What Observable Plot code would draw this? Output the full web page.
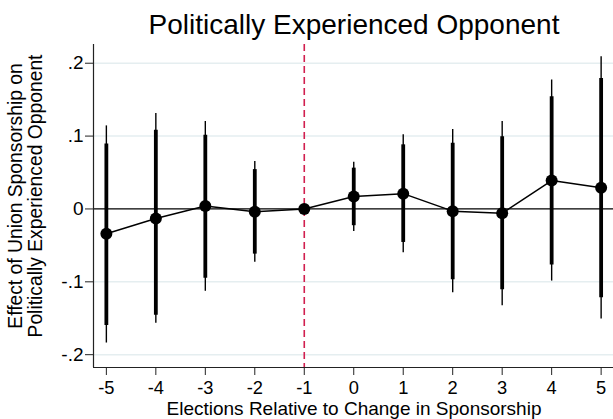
<!DOCTYPE html>
<html><head><meta charset="utf-8">
<script src="https://cdn.jsdelivr.net/npm/d3@7"></script>
<script src="https://cdn.jsdelivr.net/npm/@observablehq/plot@0.6"></script>
<style>html,body{margin:0;padding:0;background:#fff;}</style>
</head><body><div id="chart"></div>
<script>
const elections = [-5, -4, -3, -2, -1, 0, 1, 2, 3, 4, 5];
const estimates = [-0.034, -0.013, 0.004, -0.004, 0, 0.017, 0.021, -0.003, -0.006, 0.039, 0.029];
const ci90Low  = [-0.160, -0.146, -0.095, -0.062, null, -0.023, -0.046, -0.097, -0.111, -0.077, -0.122];
const ci90High = [0.089, 0.108, 0.101, 0.054, null, 0.056, 0.088, 0.090, 0.099, 0.154, 0.179];
const ci95Low  = [-0.184, -0.157, -0.113, -0.073, null, -0.031, -0.060, -0.115, -0.133, -0.099, -0.151];
const ci95High = [0.114, 0.131, 0.120, 0.065, null, 0.064, 0.102, 0.109, 0.120, 0.177, 0.209];
const yTicks = [-0.2, -0.1, 0, 0.1, 0.2];
const yTickLabels = ["-.2", "-.1", "0", ".1", ".2"];
const xTickLabels = ["-5", "-4", "-3", "-2", "-1", "0", "1", "2", "3", "4", "5"];
const referenceElection = -1;
const titleText = "Politically Experienced Opponent";
const xTitle = "Elections Relative to Change in Sponsorship";
const yTitleLines = ["Effect of Union Sponsorship on", "Politically Experienced Opponent"];

const data = elections.map((e, i) => ({
  e, est: estimates[i], lo90: ci90Low[i], hi90: ci90High[i], lo95: ci95Low[i], hi95: ci95High[i]
}));
const ciData = data.filter(d => d.lo90 != null);

const xDomain = [-5.26, 5.25];
const yDomain = [-0.2176, 0.2257];
const FONT = "'Liberation Sans', Arial, Helvetica, sans-serif";

const plot = Plot.plot({
  width: 613,
  height: 419,
  marginLeft: 93,
  marginRight: 0,
  marginTop: 44,
  marginBottom: 52,
  style: {fontFamily: FONT, fontSize: "19px", background: "#fff", color: "#000"},
  x: {domain: xDomain, label: null},
  y: {domain: yDomain, label: null},
  marks: [
    Plot.ruleY(yTicks.filter(t => t !== 0), {stroke: "#e5eef0", strokeWidth: 1.5}),
    Plot.ruleY([0], {stroke: "#000", strokeWidth: 1.3}),
    Plot.ruleX([referenceElection], {stroke: "#d11f4f", strokeWidth: 1.6, strokeDasharray: "7,4"}),
    Plot.ruleX(ciData, {x: "e", y1: "lo95", y2: "hi95", stroke: "#000", strokeWidth: 1.4}),
    Plot.ruleX(ciData, {x: "e", y1: "lo90", y2: "hi90", stroke: "#000", strokeWidth: 3.8}),
    Plot.line(data, {x: "e", y: "est", stroke: "#000", strokeWidth: 1.5}),
    Plot.dot(data, {x: "e", y: "est", r: 6, fill: "#000", stroke: "none"}),
    Plot.ruleX([xDomain[0]], {stroke: "#222", strokeWidth: 1.2}),
    Plot.ruleY([yDomain[0]], {stroke: "#222", strokeWidth: 1.2}),
    Plot.axisX(elections, {tickSize: 8, tickPadding: 5.5, stroke: "#222", fontSize: 18.3,
      tickFormat: d => xTickLabels[elections.indexOf(d)], label: null}),
    Plot.axisY(yTicks, {tickSize: 8, tickPadding: 2, stroke: "#222", fontSize: 19,
      tickFormat: d => yTickLabels[yTicks.indexOf(d)], label: null})
  ]
});

const svg = d3.select(plot);
svg.append("text")
  .attr("x", 354).attr("y", 34)
  .attr("text-anchor", "middle")
  .style("font-family", FONT).style("font-size", "28px").attr("fill", "#000")
  .text(titleText);
svg.append("text")
  .attr("x", 354).attr("y", 414.5)
  .attr("text-anchor", "middle")
  .style("font-family", FONT).style("font-size", "19px").attr("fill", "#000")
  .text(xTitle);
yTitleLines.forEach((line, i) => {
  svg.append("text")
    .attr("transform", `translate(${22 + i * 20},196) rotate(-90)`)
    .attr("text-anchor", "middle")
    .style("font-family", FONT).style("font-size", "19.3px").attr("fill", "#000")
    .text(line);
});

document.getElementById("chart").appendChild(plot);
</script>
</body></html>
